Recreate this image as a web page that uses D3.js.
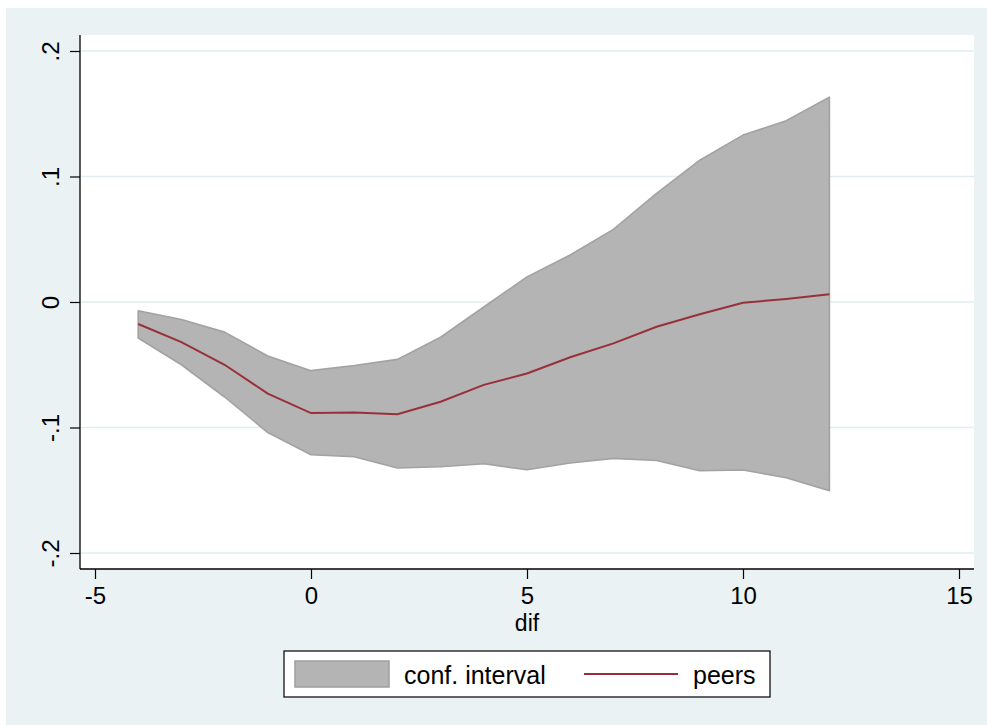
<!DOCTYPE html>
<html>
<head>
<meta charset="utf-8">
<script src="https://cdn.jsdelivr.net/npm/d3@7/dist/d3.min.js"></script>
<style>
  html, body { margin: 0; padding: 0; background: #ffffff; }
  svg { display: block; font-family: "Liberation Sans", Arial, sans-serif; }
</style>
</head>
<body>
<svg id="chart" width="987" height="725"></svg>
<script>
// ---- data ----
const dif = [-4, -3, -2, -1, 0, 1, 2, 3, 4, 5, 6, 7, 8, 9, 10, 11, 12];
const peers = [-0.0175, -0.032, -0.050, -0.073, -0.0885, -0.088, -0.0895, -0.0795, -0.066, -0.057, -0.044, -0.0330, -0.0197, -0.0098, -0.0006, 0.0024, 0.0061];
const ciUpper = [-0.007, -0.014, -0.024, -0.043, -0.0547, -0.0506, -0.0457, -0.0281, -0.004, 0.0200, 0.0375, 0.0579, 0.0865, 0.1130, 0.1330, 0.1445, 0.1632];
const ciLower = [-0.0287, -0.0500, -0.0757, -0.1040, -0.1217, -0.1233, -0.1323, -0.1313, -0.1289, -0.1336, -0.1283, -0.1246, -0.1263, -0.1345, -0.1339, -0.1400, -0.1504];
const xTicks = [-5, 0, 5, 10, 15];
const xTickLabels = ["-5", "0", "5", "10", "15"];
const yTicks = [-0.2, -0.1, 0, 0.1, 0.2];
const yTickLabels = ["-.2", "-.1", "0", ".1", ".2"];
const xTitle = "dif";
const legendLabels = ["conf. interval", "peers"];

const rows = dif.map((d, i) => ({ x: d, y: peers[i], lo: ciLower[i], hi: ciUpper[i] }));

const svg = d3.select("#chart");
const bg = "#eaf2f3";
const grid = "#e3edef";
const areaFill = "#b4b4b4";
const areaStroke = "#a2a2a2";
const lineColor = "#993039";
const font = "Liberation Sans, Arial, sans-serif";

// outer background
svg.append("rect").attr("x", 6).attr("y", 8).attr("width", 981).attr("height", 717).attr("fill", bg);

// plot region
const plot = { left: 80, right: 974, top: 35, bottom: 569 };
svg.append("rect").attr("x", plot.left).attr("y", plot.top)
  .attr("width", plot.right - plot.left).attr("height", plot.bottom - plot.top).attr("fill", "#ffffff");

const x = d3.scaleLinear().domain([-5, 15]).range([95, 959]);
const y = d3.scaleLinear().domain([-0.2, 0.2]).range([553, 51]);

// gridlines
svg.append("g").selectAll("line").data(yTicks).join("line")
  .attr("x1", plot.left + 1).attr("x2", plot.right)
  .attr("y1", d => y(d)).attr("y2", d => y(d))
  .attr("stroke", grid).attr("stroke-width", 1.6);

// CI area
const area = d3.area().x(d => x(d.x)).y0(d => y(d.lo)).y1(d => y(d.hi));
svg.append("path").datum(rows).attr("d", area)
  .attr("fill", areaFill).attr("stroke", areaStroke).attr("stroke-width", 1.6).attr("stroke-linejoin", "round");

// mean line
const line = d3.line().x(d => x(d.x)).y(d => y(d.y));
svg.append("path").datum(rows).attr("d", line)
  .attr("fill", "none").attr("stroke", lineColor).attr("stroke-width", 2);

// axes
const xAxis = d3.axisBottom(x).tickValues(xTicks).tickSize(10).tickPadding(8)
  .tickFormat((d, i) => xTickLabels[i]);
const gx = svg.append("g").attr("transform", `translate(0,${plot.bottom})`).call(xAxis);
gx.select(".domain").remove();
gx.append("line").attr("x1", plot.left).attr("x2", plot.right).attr("y1", 0).attr("y2", 0)
  .attr("stroke", "#000").attr("stroke-width", 1.3);
gx.selectAll(".tick line").attr("stroke", "#000").attr("stroke-width", 1.2);
gx.selectAll(".tick text").attr("font-size", 24).attr("fill", "#000").attr("font-family", font);

const yAxis = d3.axisLeft(y).tickValues(yTicks).tickSize(10).tickFormat((d, i) => yTickLabels[i]);
const gy = svg.append("g").attr("transform", `translate(${plot.left},0)`).call(yAxis);
gy.select(".domain").remove();
gy.append("line").attr("x1", 0).attr("x2", 0).attr("y1", plot.top).attr("y2", plot.bottom)
  .attr("stroke", "#000").attr("stroke-width", 1.3);
gy.selectAll(".tick line").attr("stroke", "#000").attr("stroke-width", 1.2);
gy.selectAll(".tick text")
  .attr("font-size", 24).attr("fill", "#000").attr("font-family", font)
  .attr("x", null).attr("dy", null)
  .attr("text-anchor", "middle")
  .attr("transform", "translate(-21,0) rotate(-90)")
  .attr("y", 0);

// x axis title
svg.append("text").attr("x", (x(-5) + x(15)) / 2).attr("y", 631)
  .attr("text-anchor", "middle").attr("font-size", 23).attr("fill", "#000").attr("font-family", font).text(xTitle);

// legend
const lg = svg.append("g").attr("font-family", font);
lg.append("rect").attr("x", 284).attr("y", 651).attr("width", 486).attr("height", 46)
  .attr("fill", "#ffffff").attr("stroke", "#000").attr("stroke-width", 1.2);
lg.append("rect").attr("x", 295).attr("y", 661).attr("width", 94).attr("height", 26)
  .attr("fill", areaFill).attr("stroke", areaStroke).attr("stroke-width", 1.6);
lg.append("text").attr("x", 404).attr("y", 684).attr("font-size", 25).attr("fill", "#000").text(legendLabels[0]);
lg.append("line").attr("x1", 584).attr("x2", 678).attr("y1", 674).attr("y2", 674)
  .attr("stroke", lineColor).attr("stroke-width", 2);
lg.append("text").attr("x", 693).attr("y", 684).attr("font-size", 25).attr("fill", "#000").text(legendLabels[1]);
</script>
</body>
</html>
